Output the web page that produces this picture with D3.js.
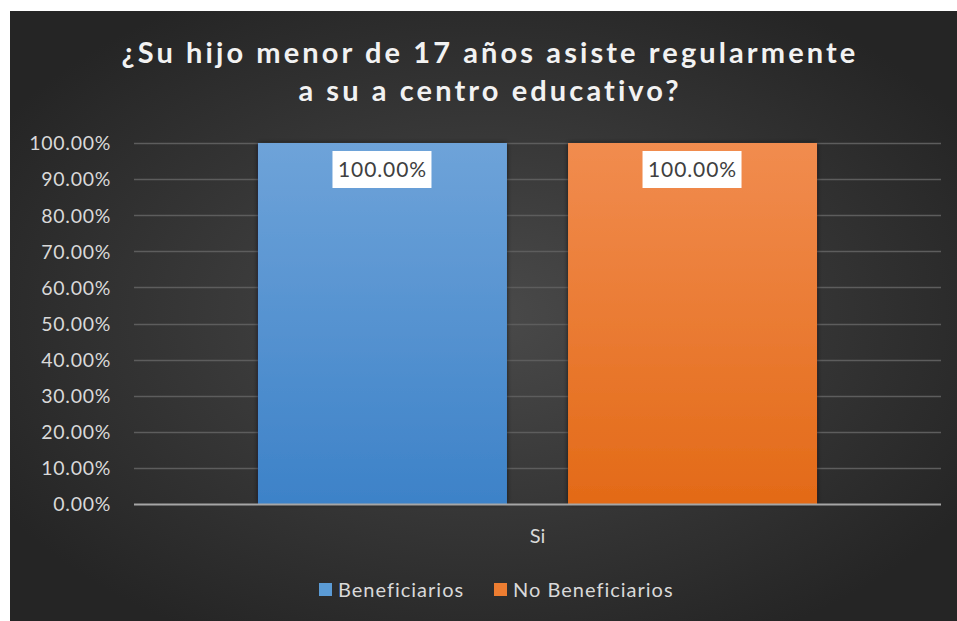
<!DOCTYPE html>
<html><head><meta charset="utf-8">
<script src="https://cdn.jsdelivr.net/npm/d3@7"></script>
<style>html,body{margin:0;padding:0;background:#fff;}svg{display:block;}</style>
</head><body>
<script>
const titleLines = ["¿Su hijo menor de 17 años asiste regularmente", "a su a centro educativo?"];
const categories = ["Si"];
const seriesNames = ["Beneficiarios", "No Beneficiarios"];
const seriesValues = [[1.0], [1.0]];
const yTicks = [0,0.1,0.2,0.3,0.4,0.5,0.6,0.7,0.8,0.9,1.0];
const colorsTop = ["#6ea3d9", "#f18c4f"];
const colorsBot = ["#3d82c8", "#e36a17"];
const legendColors = ["#5b9bd5", "#ed7d31"];

const W = 957, H = 621;
const FONT = "Lato, 'Open Sans', sans-serif";
const svg = d3.select("body").append("svg").attr("width", W).attr("height", H);
const defs = svg.append("defs");
const bg = defs.append("radialGradient").attr("id","bg").attr("cx","50%").attr("cy","50%").attr("r","60%");
bg.append("stop").attr("offset","0%").attr("stop-color","#4a4a4a");
bg.append("stop").attr("offset","100%").attr("stop-color","#252525");
seriesNames.forEach((s,i)=>{
  const g = defs.append("linearGradient").attr("id","bar"+i).attr("x1",0).attr("y1",0).attr("x2",0).attr("y2",1);
  g.append("stop").attr("offset","0%").attr("stop-color",colorsTop[i]);
  g.append("stop").attr("offset","100%").attr("stop-color",colorsBot[i]);
});
const sh = defs.append("filter").attr("id","shadow").attr("x","-10%").attr("y","-10%").attr("width","120%").attr("height","120%");
sh.append("feDropShadow").attr("dx",0).attr("dy",0).attr("stdDeviation",2.5).attr("flood-color","#000").attr("flood-opacity",0.6);

svg.append("rect").attr("x",10).attr("y",11).attr("width",W-10).attr("height",H-11).attr("fill","url(#bg)");

// title
const title = svg.append("text").attr("text-anchor","middle").attr("fill","#f2f2f2")
  .attr("font-family",FONT).attr("font-weight","bold")
  .attr("font-size",29).attr("letter-spacing","3.1px");
titleLines.forEach((t,i)=>title.append("tspan").attr("x",490).attr("y",63+i*38).text(t));

const pL = 134, pR = 941, pT = 143, pB = 504;
const y = d3.scaleLinear().domain([0,1]).range([pB, pT]);
const x0 = d3.scaleBand().domain(categories).range([pL,pR]).paddingInner(0).paddingOuter(0.2218);
const x1 = d3.scaleBand().domain(seriesNames).range([0, x0.bandwidth()]).paddingInner(0.197).paddingOuter(0);

// grid
svg.append("g").selectAll("line").data(yTicks.filter(d=>d>0)).join("line")
  .attr("x1",pL).attr("x2",pR).attr("y1",d=>Math.round(y(d))+0.5).attr("y2",d=>Math.round(y(d))+0.5)
  .attr("stroke","#5d5d5d").attr("stroke-width",1.5);

// y axis labels
const yAxis = d3.axisLeft(y).tickValues(yTicks).tickFormat(d=>(d*100).toFixed(2)+"%").tickSize(0).tickPadding(0);
const ya = svg.append("g").attr("transform",`translate(${pL-23},0)`).call(yAxis);
ya.select(".domain").remove();
ya.selectAll("text").attr("fill","#d9d9d9").attr("font-size",19.5).attr("letter-spacing","0.7px")
  .attr("font-family",FONT).attr("dy","0.35em");

// bars
const groups = svg.append("g").selectAll("g").data(categories).join("g")
  .attr("transform",d=>`translate(${x0(d)},0)`);
seriesNames.forEach((s,i)=>{
  groups.append("rect").attr("x",d=>x1(s)).attr("width",x1.bandwidth())
    .attr("y",(d)=>y(seriesValues[i][categories.indexOf(d)]))
    .attr("height",(d)=>pB - y(seriesValues[i][categories.indexOf(d)]))
    .attr("fill",`url(#bar${i})`).attr("filter","url(#shadow)");
});
// data labels
seriesNames.forEach((s,i)=>{
  categories.forEach((c,j)=>{
    const cx = x0(c)+x1(s)+x1.bandwidth()/2;
    const vy = y(seriesValues[i][j]);
    const g = svg.append("g");
    g.append("rect").attr("x",cx-50).attr("y",vy+8).attr("width",99).attr("height",37).attr("fill","#fff");
    g.append("text").attr("x",cx).attr("y",vy+27).attr("dy","0.35em").attr("text-anchor","middle")
      .attr("font-family",FONT).attr("font-size",21).attr("letter-spacing","0.9px").attr("fill","#404040")
      .text((seriesValues[i][j]*100).toFixed(2)+"%");
  });
});

// x axis
svg.append("line").attr("x1",pL).attr("x2",pR).attr("y1",pB+0.5).attr("y2",pB+0.5)
  .attr("stroke","#a6a6a6").attr("stroke-width",2);
const xa = svg.append("g").attr("transform",`translate(0,${pB})`).call(d3.axisBottom(x0).tickSize(0).tickPadding(0));
xa.select(".domain").remove();
xa.selectAll("text").attr("fill","#d9d9d9").attr("font-size",20).attr("font-family",FONT).attr("y",32).attr("dy","0.35em");

// legend
const legendX = [319, 494];
seriesNames.forEach((s,i)=>{
  svg.append("rect").attr("x",legendX[i]).attr("y",583).attr("width",13).attr("height",13).attr("fill",legendColors[i]);
  svg.append("text").attr("x",legendX[i]+19).attr("y",590).attr("dy","0.35em").attr("letter-spacing","1px")
    .attr("fill","#d9d9d9").attr("font-size",20).attr("font-family",FONT).text(s);
});
</script>
</body></html>
